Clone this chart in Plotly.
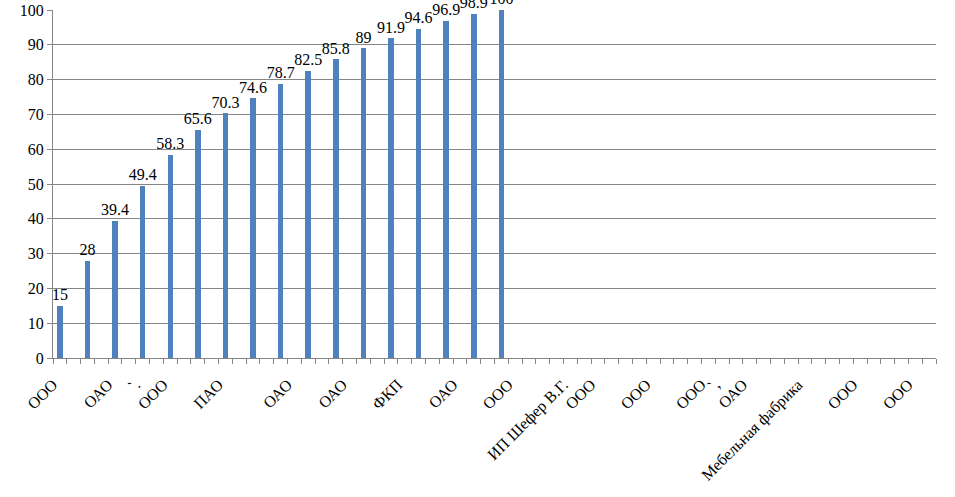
import plotly.graph_objects as go

# 64 category slots; bars sit on every other slot
n_slots = 64
bar_slots = [0, 2, 4, 6, 8, 10, 12, 14, 16, 18, 20, 22, 24, 26, 28, 30, 32]
values = [15, 28, 39.4, 49.4, 58.3, 65.6, 70.3, 74.6, 78.7, 82.5, 85.8, 89, 91.9, 94.6, 96.9, 98.9, 100]
value_labels = ["15", "28", "39.4", "49.4", "58.3", "65.6", "70.3", "74.6", "78.7",
                "82.5", "85.8", "89", "91.9", "94.6", "96.9", "98.9", "100"]

# visible category labels and the slots they sit on
label_slots = [0, 4, 6, 8, 12, 17, 21, 25, 29, 33, 37, 39, 43, 47, 48, 50, 54, 58, 62]
label_texts = ["ООО", "ОАО", "`.", "ООО", "ПАО", "ОАО", "ОАО", "ФКП", "ОАО", "ООО",
               "ИП Шефер В.Г.", "ООО", "ООО", "ООО", "`,", "ОАО", "Мебельная фабрика",
               "ООО", "ООО"]

BAR_COLOR = "#4F81BD"
GRID = "#868686"
FONT = "Liberation Serif"

fig = go.Figure()
fig.add_trace(
    go.Bar(
        x=bar_slots,
        y=values,
        width=0.4,
        marker_color=BAR_COLOR,
        marker_line_width=0,
        hoverinfo="skip",
    )
)
# value labels a little above each bar
fig.add_trace(
    go.Scatter(
        x=bar_slots,
        y=values,
        mode="markers+text",
        marker=dict(size=1, opacity=0),
        text=value_labels,
        textposition="top center",
        textfont=dict(family=FONT, size=16, color="black"),
        cliponaxis=False,
        hoverinfo="skip",
    )
)

fig.update_layout(
    width=955,
    height=497,
    margin=dict(l=53, r=19, t=10, b=139, autoexpand=False),
    plot_bgcolor="white",
    paper_bgcolor="white",
    showlegend=False,
    font=dict(family=FONT, size=16, color="black"),
    bargap=0,
)

fig.update_xaxes(
    range=[-0.5, n_slots - 0.5],
    tickmode="array",
    tickvals=label_slots,
    ticktext=label_texts,
    tickangle=-45,
    ticks="",
    ticklabelstandoff=10,
    ticklabelshift=-7,
    showgrid=False,
    zeroline=False,
    showline=True,
    linecolor=GRID,
    linewidth=1,
    automargin=False,
    tickfont=dict(family=FONT, size=16, color="black"),
    minor=dict(tickmode="linear", tick0=-0.5, dtick=1, ticks="outside",
               ticklen=5, tickcolor=GRID, tickwidth=1, showgrid=False),
)

fig.update_yaxes(
    range=[0, 100],
    dtick=10,
    showgrid=True,
    gridcolor=GRID,
    gridwidth=1,
    zeroline=False,
    showline=True,
    linecolor=GRID,
    linewidth=1,
    ticks="outside",
    ticklen=5,
    tickcolor=GRID,
    automargin=False,
    tickfont=dict(family=FONT, size=16, color="black"),
)

fig.write_html("out.html", config={"displayModeBar": False},
               post_script="document.body.style.margin='0';")
